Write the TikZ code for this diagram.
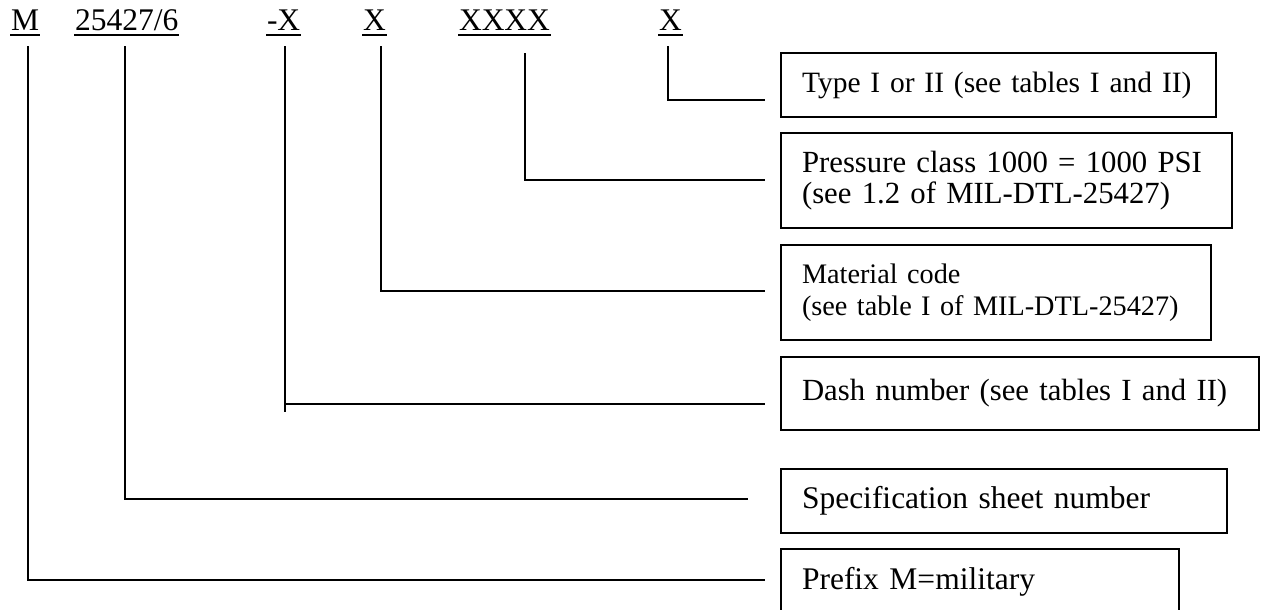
\documentclass[tikz,border=0pt]{standalone}
\usepackage{fontspec}
\setmainfont{Liberation Serif}
\begin{document}
\begin{tikzpicture}[x=0.4pt,y=-0.4pt,line width=0.8pt,
  lbl/.style={inner sep=0pt,anchor=base west,font=\fontsize{12.6}{14}\selectfont},
  ul/.style={line width=0.8pt},
  box/.style={draw,line width=0.8pt,anchor=north west,inner xsep=8.4pt,inner ysep=0pt,align=left,font=\fontsize{12.6}{13}\selectfont},
  conn/.style={line width=0.8pt}]
\useasboundingbox (0,0) rectangle (1266,609);

% code labels
\node[lbl] (lM) at (10,30) {M};
\node[lbl] (lS) at (74,30) {25427/6};
\node[lbl] (lD) at (266,30) {-X};
\node[lbl] (lX) at (362,30) {X};
\node[lbl] (lP) at (458,30) {XXXX};
\node[lbl] (lT) at (658,30) {X};
\foreach \n in {lM,lS,lD,lX,lP,lT}
  \draw[ul] ([yshift=-2pt]\n.base west) -- ([yshift=-2pt]\n.base east);

% boxes
\node[box,text width=157.2pt,minimum height=25.6pt,font=\fontsize{11.8}{13}\selectfont] (type) at (780,52)
  {Type I or II (see tables I and II)};
\node[box,text width=163.6pt,minimum height=38pt,font=\fontsize{12.3}{12.6}\selectfont] (press) at (780,132)
  {Pressure class 1000 = 1000 PSI\\(see 1.2 of MIL-DTL-25427)};
\node[box,text width=155.2pt,minimum height=38pt,font=\fontsize{11.3}{13}\selectfont] (mat) at (780,244)
  {Material code\\(see table I of MIL-DTL-25427)};
\node[box,text width=174.4pt,minimum height=29.2pt,font=\fontsize{12.3}{13}\selectfont] (dash) at (780,356)
  {Dash number (see tables I and II)};
\node[box,text width=161.6pt,minimum height=25.6pt] (spec) at (780,468)
  {Specification sheet number};
\node[box,text width=142.4pt,text height=16pt,text depth=24pt] (pref) at (780,548)
  {Prefix M=military};

% connector corners and free ends
\coordinate (cT) at (668,100);  \coordinate (eT) at (765,100);
\coordinate (cP) at (525,180);  \coordinate (eP) at (765,180);
\coordinate (cX) at (381,291);  \coordinate (eX) at (765,291);
\coordinate (cD) at (285,404);  \coordinate (eD) at (765,404);
\coordinate (dTail) at (285,412);
\coordinate (cS) at (125,499);  \coordinate (eS) at (748,499);
\coordinate (cM) at (28,580);   \coordinate (eM) at (765,580);

% connectors
\draw[conn] (lT.south -| cT) ++(0,15) -- (cT) -- (eT);
\draw[conn] (lP.south -| cP) ++(0,22) -- (cP) -- (eP);
\draw[conn] (lX.south -| cX) ++(0,15) -- (cX) -- (eX);
\draw[conn] (lD.south -| cD) ++(0,15) -- (dTail);
\draw[conn] (cD) -- (eD);
\draw[conn] (lS.south -| cS) ++(0,15) -- (cS) -- (eS);
\draw[conn] (lM.south -| cM) ++(0,15) -- (cM) -- (eM);
\end{tikzpicture}
\end{document}
